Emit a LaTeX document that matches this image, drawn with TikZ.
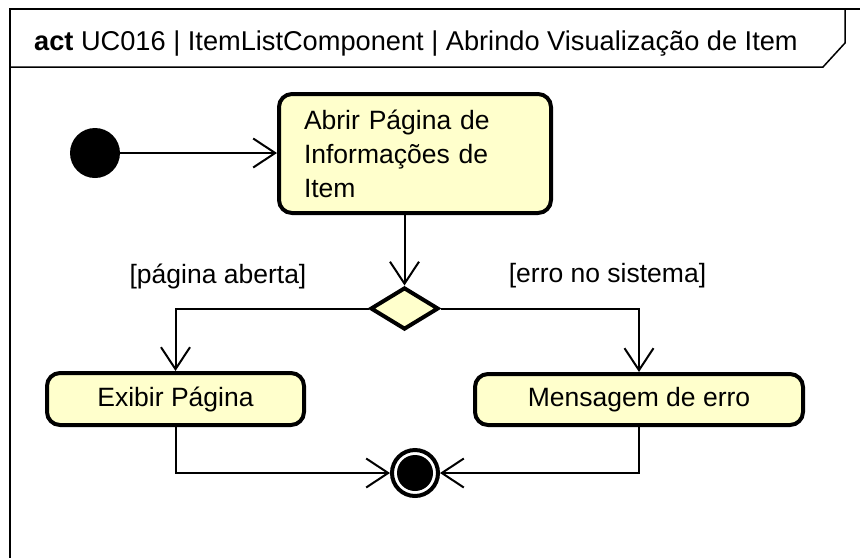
\documentclass[tikz,border=0pt]{standalone}
\usepackage{fontspec}
\setmainfont{Liberation Sans}
\usetikzlibrary{arrows.meta,shapes.geometric}
\definecolor{actfill}{RGB}{255,255,204}
\tikzset{
  every node/.style={font=\fontsize{26.5}{34}\selectfont},
  action/.style={draw, line width=4pt, fill=actfill, rounded corners=13pt, inner sep=0pt},
  flow/.style={line width=2pt, -{Straight Barb[length=22pt,width=29pt,line width=2pt]}},
  line/.style={line width=2pt},
  frameline/.style={line width=2.5pt},
  guard/.style={inner sep=0pt},
}
\begin{document}
\begin{tikzpicture}[x=1pt,y=-1pt]
\useasboundingbox (0,0) rectangle (860,558);
% frame
\draw[frameline] (860,9) -- (10,9) -- (10,558);
\draw[line width=1.5pt] (10,67) -- (823,67) -- (845,43) -- (845,9);
\node[anchor=base west, inner sep=0pt, font=\fontsize{27.2}{32}\selectfont] (title) at (34,50.5)
  {\textbf{act} UC016 | ItemListComponent | Abrindo Visualização de Item};
% nodes
\node[circle, fill=black, minimum size=50pt, inner sep=0pt] (init) at (95,153) {};
\node[action, minimum width=272pt, minimum height=119pt, text width=222pt, align=left] (a1) at (415,153.5)
  {Abrir Página de\\Informações de\\Item};
\node[diamond, draw, line width=4pt, fill=actfill, inner sep=0pt, minimum width=68pt, minimum height=42pt] (dec) at (404.5,308.5) {};
\node[action, minimum width=257pt, minimum height=52pt] (ex) at (175.5,399) {Exibir Página};
\node[action, minimum width=328pt, minimum height=51pt] (me) at (639,399.5) {Mensagem de erro};
\node[circle, draw, line width=4pt, minimum size=46pt, inner sep=0pt] (fin) at (415,473) {};
\node[circle, fill=black, minimum size=36pt, inner sep=0pt] (finin) at (fin.center) {};
% guards
\node[guard] (g1) at (218,276) {[página aberta]};
\node[guard] (g2) at (607.5,276) {[erro no sistema]};
% connectors
\draw[flow] (init) -- (a1.west |- init);
\draw[flow] (a1.south -| dec.north) -- (dec.north);
\draw[flow] (dec.west) -| (ex.north);
\draw[flow] (dec.east) -| (me.north);
\draw[flow] (ex.south) |- (fin.west);
\draw[flow] (me.south) |- (fin.east);
\end{tikzpicture}
\end{document}
